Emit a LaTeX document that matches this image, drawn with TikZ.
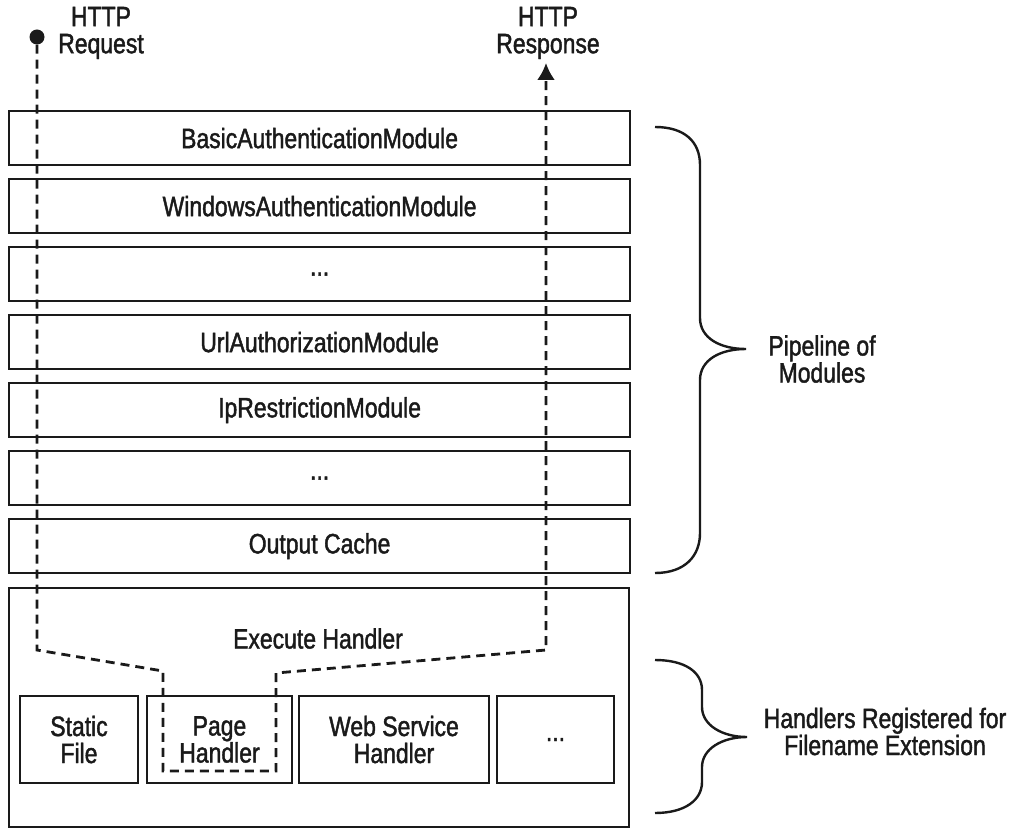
\documentclass[tikz,border=0pt]{standalone}
\usepackage{fontspec}
\setmainfont{Liberation Sans}[FakeStretch=0.82,FakeBold=1.5]
\usetikzlibrary{arrows.meta,positioning}
\definecolor{inkgray}{HTML}{1A1A1A}
\newcommand{\moredots}{...}
\tikzset{
  modbox/.style={draw=inkgray,line width=2.2pt,minimum width=621pt,minimum height=54pt,anchor=north west,inner sep=0pt},
  handbox/.style={draw=inkgray,line width=2.2pt,minimum height=87pt,align=center,inner sep=0pt},
  outerbox/.style={draw=inkgray,line width=2.2pt,anchor=north west,minimum width=620pt,minimum height=239pt,inner sep=0pt},
  flowline/.style={inkgray,line width=2.8pt,dash pattern=on 9pt off 6pt},
  bracepath/.style={inkgray,line width=2.4pt},
  lbl/.style={align=center,text=inkgray},
  every node/.append style={font=\fontsize{28}{27}\selectfont,text=inkgray}
}
\begin{document}
\begin{tikzpicture}[x=1pt,y=-1pt]
\useasboundingbox (0,0) rectangle (1011,829);
% pipeline of modules
\foreach \i/\name/\txt in {0/basic/BasicAuthenticationModule,1/windows/WindowsAuthenticationModule,2/dotsa/\moredots,3/urlauth/UrlAuthorizationModule,4/iprestr/IpRestrictionModule,5/dotsb/\moredots,6/outcache/Output Cache}{
  \node[modbox] (\name) at (8,110+68*\i) {\txt};
}
% handler area
\node[outerbox] (exec) at (8,587) {};
\node[lbl] (exectxt) at (318,638.5) {Execute Handler};
\node[handbox,minimum width=118pt] (static) at (79,739.5) {Static\\File};
\node[handbox,minimum width=145pt] (page) at (219.5,739.5) {Page\\Handler};
\node[handbox,minimum width=190pt] (websvc) at (394,739.5) {Web Service\\Handler};
\node[handbox,minimum width=117pt] (hdots) at (555.5,739.5) {\moredots};
% request and response
\node[circle,fill=inkgray,inner sep=0pt,minimum size=15pt] (reqdot) at (37,37) {};
\node[lbl] (reqtxt) at (101,33) {HTTP\\Request};
\node[lbl] (resptxt) at (548,33) {HTTP\\Response};
\coordinate (r1) at (37,650);
\coordinate (r2) at (163,671);
\coordinate (r3) at (163,771);
\coordinate (r4) at (276,771);
\coordinate (r5) at (276,673);
\coordinate (r6) at (546,650);
\coordinate (respend) at (546,63);
\draw[flowline,-{Latex[length=17pt,width=18pt]}] (reqdot.south) -- (r1) -- (r2) -- (r3) -- (r4) -- (r5) -- (r6) -- (respend);
% braces
\draw[bracepath] (655,127) .. controls (685,127) and (700,142) .. (700,165) -- (700,318)
  .. controls (700,338) and (720,349) .. (746,349) .. controls (720,349) and (700,360) .. (700,380)
  -- (700,533) .. controls (700,556) and (685,573) .. (655,573);
\node[lbl] (pipetxt) at (822,359) {Pipeline of\\Modules};
\draw[bracepath] (655,660) .. controls (685,660) and (702,672) .. (702,690) -- (702,707)
  .. controls (702,725) and (722,737) .. (747,737) .. controls (722,737) and (702,749) .. (702,767)
  -- (702,782) .. controls (702,800) and (685,813) .. (655,813);
\node[lbl] (handtxt) at (885,731.5) {Handlers Registered for\\Filename Extension};
\end{tikzpicture}
\end{document}
